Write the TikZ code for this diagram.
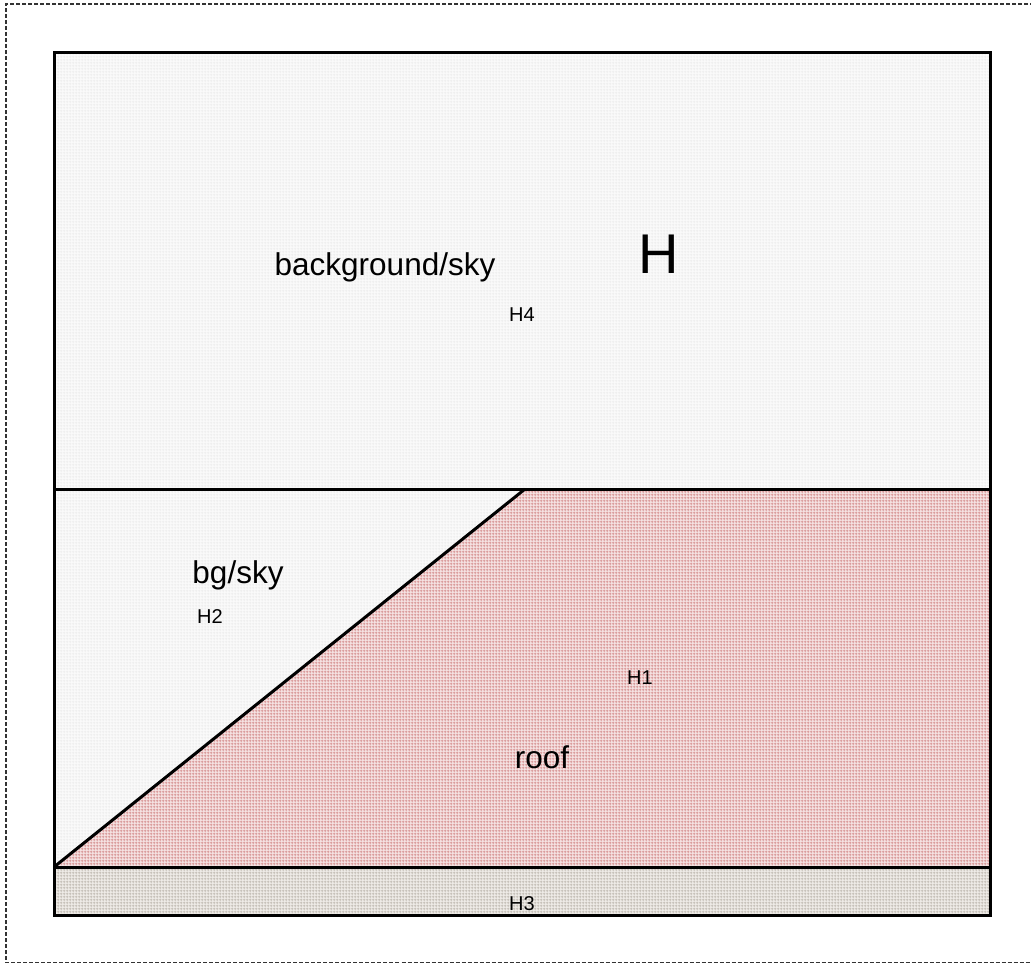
\documentclass[tikz,border=0pt]{standalone}
\usepackage{fontspec}
\setmainfont{Liberation Sans}
\usetikzlibrary{patterns.meta}
\tikzdeclarepattern{
  name=finegrid,
  type=uncolored,
  bounding box={(0pt,0pt) and (3pt,3pt)},
  tile size={(3pt,3pt)},
  code={
    \pgfsetlinewidth{1pt}
    \pgfpathmoveto{\pgfqpoint{0pt}{1.5pt}}\pgfpathlineto{\pgfqpoint{3pt}{1.5pt}}
    \pgfpathmoveto{\pgfqpoint{1.5pt}{0pt}}\pgfpathlineto{\pgfqpoint{1.5pt}{3pt}}
    \pgfusepath{stroke}
  }
}
\definecolor{skybase}{HTML}{FAFAFA}
\definecolor{skyline}{HTML}{EEEEEE}
\definecolor{roofbase}{HTML}{F5E2E2}
\definecolor{roofline}{HTML}{D89696}
\definecolor{groundbase}{HTML}{EEEBE7}
\definecolor{groundline}{HTML}{C4BEB6}
\definecolor{frameline}{HTML}{333333}
\tikzset{
  region/.style={draw=black, line width=3pt, line join=miter},
  bigtext/.style={font=\fontsize{31.5}{36}\selectfont, anchor=base, inner sep=0pt},
  hugetext/.style={font=\fontsize{56}{64}\selectfont, anchor=base, inner sep=0pt},
  smalltext/.style={font=\fontsize{20}{24}\selectfont, anchor=base, inner sep=0pt},
}
\begin{document}
\begin{tikzpicture}[x=1pt,y=-1pt]
\useasboundingbox (0,0) rectangle (1031,964);
% dashed outer frame
\draw[frameline, line width=1.3pt, dash pattern=on 4pt off 2pt]
  (1040,4) -- (6,4) -- (6,962.5) -- (1040,962.5);
% sky (upper)
\fill[skybase] (54,52) rectangle (990,489);
\fill[pattern={finegrid}, pattern color=skyline] (54,52) rectangle (990,489);
% bg/sky lower left triangle
\fill[skybase] (54,489) -- (525,489) -- (54,867) -- cycle;
\fill[pattern={finegrid}, pattern color=skyline] (54,489) -- (525,489) -- (54,867) -- cycle;
% roof
\fill[roofbase] (525,489) -- (990,489) -- (990,867) -- (54,867) -- cycle;
\fill[pattern={finegrid}, pattern color=roofline] (525,489) -- (990,489) -- (990,867) -- (54,867) -- cycle;
% ground strip
\fill[groundbase] (54,867) rectangle (990,915);
\fill[pattern={finegrid}, pattern color=groundline] (54,867) rectangle (990,915);
% outlines
\draw[region] (54,52) rectangle (990,915);
\draw[region] (54,489) -- (990,489);
\draw[region] (54,867) -- (990,867);
\draw[region] (54,867) -- (525,489);
% labels
\node[bigtext] (tsky) at (385,275) {background/sky};
\node[hugetext] (tH) at (659,273) {H};
\node[smalltext] (tH4) at (522,321) {H4};
\node[bigtext] (tbg) at (238,583) {bg/sky};
\node[smalltext] (tH2) at (210,623) {H2};
\node[smalltext] (tH1) at (640,684) {H1};
\node[bigtext] (troof) at (542,768) {roof};
\node[smalltext] (tH3) at (522,910) {H3};
\end{tikzpicture}
\end{document}
